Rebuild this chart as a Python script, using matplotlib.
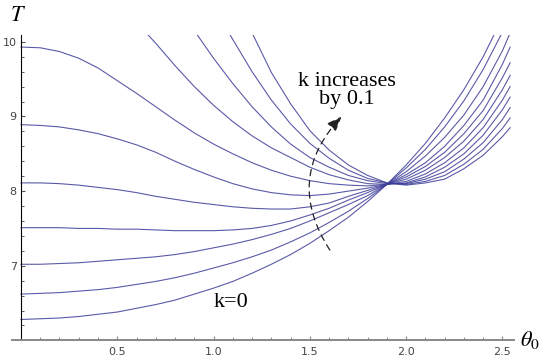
import matplotlib
matplotlib.use("Agg")
import matplotlib.pyplot as plt
import numpy as np

# amplitude grid (rad) and period T for each k
theta = [0.0, 0.1, 0.2, 0.3, 0.4, 0.5, 0.6, 0.7, 0.8, 0.9, 1.0, 1.1, 1.2, 1.3, 1.4, 1.5,
         1.6, 1.7, 1.8, 1.9, 2.0, 2.1, 2.2, 2.3, 2.4, 2.5, 2.54]
nan = np.nan

T_k00 = [6.28, 6.29, 6.30, 6.32, 6.35, 6.38, 6.43, 6.48, 6.54, 6.62, 6.70, 6.79, 6.90, 7.02,
         7.15, 7.30, 7.47, 7.65, 7.86, 8.09, 8.35, 8.64, 8.98, 9.36, 9.80, 10.32, nan]
T_k01 = [6.62, 6.63, 6.64, 6.66, 6.68, 6.71, 6.75, 6.79, 6.84, 6.90, 6.97, 7.04, 7.12, 7.21,
         7.32, 7.44, 7.58, 7.73, 7.90, 8.09, 8.31, 8.56, 8.86, 9.21, 9.63, 10.13, nan]
T_k02 = [7.02, 7.02, 7.03, 7.04, 7.06, 7.08, 7.10, 7.12, 7.15, 7.19, 7.24, 7.29, 7.35, 7.42,
         7.50, 7.60, 7.71, 7.82, 7.94, 8.09, 8.26, 8.47, 8.72, 9.02, 9.40, 9.88, 10.12]
T_k03 = [7.51, 7.51, 7.51, 7.50, 7.50, 7.49, 7.49, 7.48, 7.47, 7.47, 7.47, 7.48, 7.50, 7.54,
         7.60, 7.68, 7.77, 7.88, 7.98, 8.09, 8.22, 8.38, 8.60, 8.88, 9.22, 9.70, 9.93]
T_k04 = [8.11, 8.11, 8.10, 8.08, 8.05, 8.02, 7.98, 7.93, 7.89, 7.85, 7.82, 7.79, 7.77, 7.76,
         7.76, 7.79, 7.84, 7.93, 8.01, 8.09, 8.19, 8.33, 8.52, 8.77, 9.08, 9.52, 9.72]
T_k05 = [8.89, 8.88, 8.86, 8.82, 8.77, 8.70, 8.62, 8.52, 8.40, 8.29, 8.19, 8.10, 8.03, 7.98,
         7.95, 7.94, 7.96, 8.00, 8.04, 8.09, 8.16, 8.28, 8.45, 8.67, 8.96, 9.36, 9.55]
T_k06 = [9.93, 9.92, 9.87, 9.78, 9.65, 9.48, 9.31, 9.13, 8.95, 8.78, 8.63, 8.50, 8.38, 8.28,
         8.20, 8.14, 8.10, 8.08, 8.07, 8.09, 8.13, 8.23, 8.38, 8.58, 8.85, 9.22, 9.40]
T_k07 = [nan, nan, nan, nan, nan, nan, 10.26, 9.98, 9.68, 9.40, 9.15, 8.93, 8.74, 8.58,
         8.45, 8.32, 8.22, 8.15, 8.10, 8.09, 8.11, 8.19, 8.32, 8.50, 8.75, 9.09, 9.26]
T_k08 = [nan, nan, nan, nan, nan, nan, nan, nan, nan, 10.15, 9.78, 9.44, 9.13, 8.86,
         8.63, 8.45, 8.32, 8.21, 8.14, 8.10, 8.10, 8.16, 8.26, 8.43, 8.65, 8.96, 9.12]
T_k09 = [nan, nan, nan, nan, nan, nan, nan, nan, nan, nan, 10.48, 10.03, 9.60, 9.22,
         8.90, 8.64, 8.44, 8.28, 8.17, 8.11, 8.09, 8.13, 8.21, 8.36, 8.56, 8.84, 8.98]
T_k10 = [nan, nan, nan, nan, nan, nan, nan, nan, nan, nan, nan, 10.80, 10.12, 9.59,
         9.17, 8.81, 8.55, 8.35, 8.21, 8.11, 8.08, 8.11, 8.16, 8.30, 8.48, 8.73, 8.85]

curves = [T_k00, T_k01, T_k02, T_k03, T_k04, T_k05, T_k06, T_k07, T_k08, T_k09, T_k10]

W, H = 545, 363
fig = plt.figure(figsize=(W / 100, H / 100), dpi=100)
ax = fig.add_axes([12.3 / W, 1 - 340.4 / H, (514 - 12.3) / W, (340.4 - 35.1) / H])

for T in curves:
    ax.plot(theta, T, color="#3d3d99", lw=0.8, alpha=0.85)

ax.set_xlim(-0.045, 2.56)
ax.set_ylim(6.0, 10.09)

# Mathematica-like axes
for s in ["top", "right"]:
    ax.spines[s].set_visible(False)
ax.spines["left"].set_position(("data", 0))
ax.spines["left"].set_color("black")
ax.spines["left"].set_linewidth(0.8)
ax.spines["bottom"].set_color("#888888")
ax.spines["bottom"].set_linewidth(1.4)

ax.set_xticks([0.5, 1.0, 1.5, 2.0, 2.5])
ax.set_xticklabels(["0.5", "1.0", "1.5", "2.0", "2.5"])
ax.set_xticks(np.arange(0.1, 2.55, 0.1), minor=True)
ax.set_yticks([7, 8, 9, 10])
ax.set_yticklabels(["7", "8", "9", "10"])
ax.set_yticks(np.arange(6.2, 10.05, 0.2), minor=True)
ax.tick_params(axis="x", which="both", direction="in", colors="#888888", labelcolor="#444444",
               labelsize=8, pad=5)
ax.tick_params(axis="y", which="both", direction="in", colors="#555555", labelcolor="#444444",
               labelsize=8, pad=3)
ax.tick_params(which="major", length=3.0, width=0.8)
ax.tick_params(which="minor", length=2.0, width=0.7)

plt.rcParams["mathtext.fontset"] = "stix"
fig.text(18 / W, 1 - 15 / H, r"$T$", fontsize=16, ha="center", va="center")
fig.text(530 / W, 1 - 340 / H, r"$\theta_0$", fontsize=16, ha="center", va="center")

ax.text(1.693, 9.35, "k increases\nby 0.1", family="Liberation Serif", fontsize=16,
        ha="center", va="center", linespacing=0.95)
ax.text(1.09, 6.51, "k=0", family="Liberation Serif", fontsize=16, ha="center", va="center")

ax.annotate("", xy=(1.665, 9.0), xytext=(1.604, 7.21),
            arrowprops=dict(arrowstyle="-|>,head_length=0.9,head_width=0.35", color="#222222",
                            lw=0.9, linestyle=(0, (5, 4)), connectionstyle="arc3,rad=-0.39",
                            shrinkA=0, shrinkB=0))

fig.savefig("out.png", dpi=100)
